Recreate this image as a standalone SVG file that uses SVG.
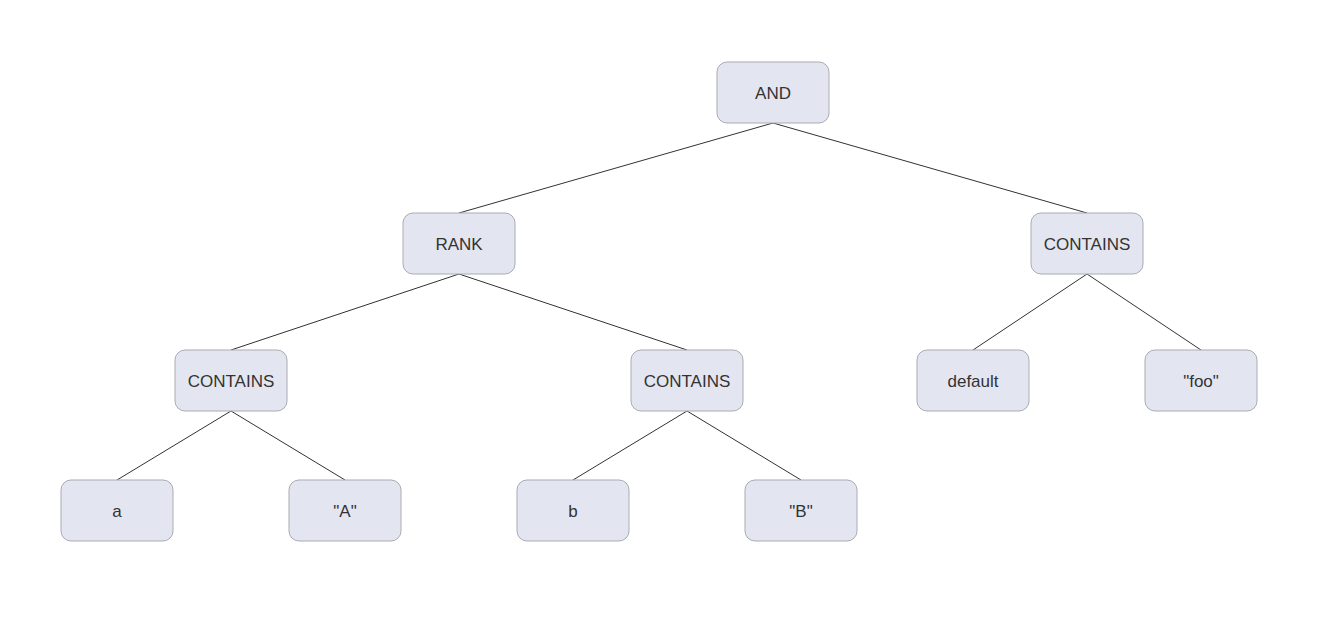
<svg xmlns="http://www.w3.org/2000/svg" width="1323" height="622" viewBox="0 0 1323 622">
<style>
.n rect{fill:#e3e6f1;stroke:#a9abb3;stroke-width:1}
.n text{font-family:"Liberation Sans",Arial,sans-serif;font-size:17px;fill:#333;text-anchor:middle;dominant-baseline:central}
.e line{stroke:#333;stroke-width:1}
</style>
<rect width="1323" height="622" fill="#fff"/>
<g id="edges" class="e">
<line x1="773" y1="123" x2="459" y2="213"/>
<line x1="773" y1="123" x2="1087" y2="213"/>
<line x1="459" y1="274" x2="231" y2="350"/>
<line x1="459" y1="274" x2="687" y2="350"/>
<line x1="1087" y1="274" x2="973" y2="350"/>
<line x1="1087" y1="274" x2="1201" y2="350"/>
<line x1="231" y1="411" x2="117" y2="480"/>
<line x1="231" y1="411" x2="345" y2="480"/>
<line x1="687" y1="411" x2="573" y2="480"/>
<line x1="687" y1="411" x2="801" y2="480"/>
</g>
<g id="and" class="n"><rect x="717" y="62" width="112" height="61" rx="10"/><text x="773" y="93">AND</text></g>
<g id="rank" class="n"><rect x="403" y="213" width="112" height="61" rx="10"/><text x="459" y="244">RANK</text></g>
<g id="contains3" class="n"><rect x="1031" y="213" width="112" height="61" rx="10"/><text x="1087" y="244">CONTAINS</text></g>
<g id="contains1" class="n"><rect x="175" y="350" width="112" height="61" rx="10"/><text x="231" y="381">CONTAINS</text></g>
<g id="contains2" class="n"><rect x="631" y="350" width="112" height="61" rx="10"/><text x="687" y="381">CONTAINS</text></g>
<g id="default" class="n"><rect x="917" y="350" width="112" height="61" rx="10"/><text x="973" y="381">default</text></g>
<g id="foo" class="n"><rect x="1145" y="350" width="112" height="61" rx="10"/><text x="1201" y="381">"foo"</text></g>
<g id="a" class="n"><rect x="61" y="480" width="112" height="61" rx="10"/><text x="117" y="511">a</text></g>
<g id="A" class="n"><rect x="289" y="480" width="112" height="61" rx="10"/><text x="345" y="511">"A"</text></g>
<g id="b" class="n"><rect x="517" y="480" width="112" height="61" rx="10"/><text x="573" y="511">b</text></g>
<g id="B" class="n"><rect x="745" y="480" width="112" height="61" rx="10"/><text x="801" y="511">"B"</text></g>
</svg>
